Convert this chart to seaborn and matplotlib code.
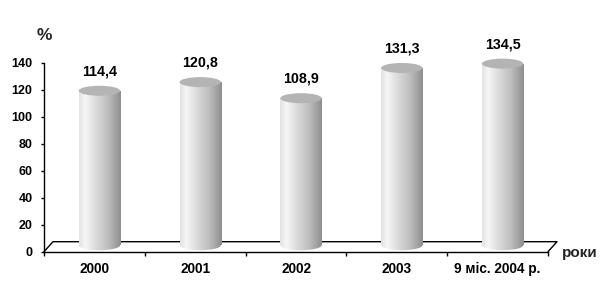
import numpy as np
import pandas as pd
import matplotlib
matplotlib.use("Agg")
import matplotlib.pyplot as plt
import matplotlib.transforms as mtransforms
from matplotlib.patches import Ellipse
from matplotlib.colors import LinearSegmentedColormap
from matplotlib.ticker import FixedLocator
import seaborn as sns

# ---- data ----
categories = ["2000", "2001", "2002", "2003", "9 міс. 2004 р."]
values = [114.4, 120.8, 108.9, 131.3, 134.5]
value_labels = ["114,4", "120,8", "108,9", "131,3", "134,5"]
yticks = [0, 20, 40, 60, 80, 100, 120, 140]
y_unit = "%"
x_unit = "роки"

sns.set_theme(style="white")
plt.rcParams["font.family"] = ["Liberation Sans", "DejaVu Sans"]
plt.rcParams["font.weight"] = "bold"

W, H, DPI = 605, 296, 100
fig = plt.figure(figsize=(W / DPI, H / DPI), dpi=DPI)
fig.patch.set_facecolor("white")
x0px, x1px, y0px, y1px = 44, 548, 251.7, 62.7
ax = fig.add_axes([x0px / W, 1 - y0px / H, (x1px - x0px) / W, (y0px - y1px) / H])
ax.set_facecolor("white")

df = pd.DataFrame({"cat": categories, "val": values})
sns.barplot(data=df, x="cat", y="val", width=0.41, ax=ax, color="white",
            order=categories, zorder=3)

ax.set_xlim(-0.5, len(categories) - 0.5)
ax.set_ylim(0, 140)

# depth offset for the 3D look
off = mtransforms.ScaledTranslation(5 / DPI, 6.5 / DPI, fig.dpi_scale_trans)
tr = ax.transData + off
ell_h = 10 * 140 / (y0px - y1px)  # ellipse height in data units

cmap = LinearSegmentedColormap.from_list(
    "cyl", [(0.0, "#e2e2e2"), (0.15, "#f6f6f6"), (0.35, "#e0e0e0"),
            (0.7, "#bdbdbd"), (1.0, "#8e8e8e")])
grad = np.linspace(0, 1, 256).reshape(1, -1)

# floor parallelogram
dx, dy = 9 / (x1px - x0px), 10 / (y0px - y1px)
ax.plot([0, dx, 1 + dx, 1], [0, dy, dy, 0], transform=ax.transAxes,
        color="black", lw=1, clip_on=False, zorder=1)

for p, lab in zip(ax.patches, value_labels):
    bx, bw, bh = p.get_x(), p.get_width(), p.get_height()
    cx = bx + bw / 2
    p.set_transform(tr)
    p.set_facecolor("none")
    p.set_edgecolor("none")
    p.set_clip_on(False)
    im = ax.imshow(grad, extent=[bx, bx + bw, 0, bh], cmap=cmap, aspect="auto",
                   interpolation="bilinear", zorder=3)
    im.set_transform(tr)
    im.set_clip_path(p)
    # bottom rounded part
    be = Ellipse((cx, 0), bw, ell_h, transform=tr, facecolor="none",
                 edgecolor="none")
    ax.add_patch(be)
    im2 = ax.imshow(grad, extent=[bx, bx + bw, -ell_h, ell_h], cmap=cmap,
                    aspect="auto", interpolation="bilinear", zorder=3)
    im2.set_transform(tr)
    im2.set_clip_path(be)
    # top ellipse
    te = Ellipse((cx, bh), bw, ell_h, transform=tr, facecolor="#b4b4b4",
                 edgecolor="none", zorder=4, clip_on=False)
    ax.add_patch(te)
    ax.annotate(lab, (cx, bh), xycoords=tr, xytext=(0, 11),
                textcoords="offset points", ha="center", va="baseline",
                fontsize=10.3, fontweight="bold", color="black")

ax.set_xlim(-0.5, len(categories) - 0.5)
ax.set_ylim(0, 140)

# axes styling
for s in ["top", "right"]:
    ax.spines[s].set_visible(False)
for s in ["left", "bottom"]:
    ax.spines[s].set_color("black")
    ax.spines[s].set_linewidth(1)
    ax.spines[s].set_zorder(5)

ax.set_yticks(yticks)
ax.set_yticklabels([str(v) for v in yticks], fontsize=9, fontweight="bold")
ax.tick_params(axis="y", direction="out", length=2.5, width=1, color="black",
               pad=5.8, left=True, labelcolor="black")
ax.set_xticks(range(len(categories)))
ax.set_xticklabels(categories, fontsize=9.8, fontweight="bold")
ax.xaxis.set_minor_locator(FixedLocator(np.arange(-0.5, len(categories), 1.0)))
ax.tick_params(axis="x", which="major", length=0, pad=7.5, labelcolor="black")
ax.tick_params(axis="x", which="minor", direction="out", length=3, width=1,
               color="black", bottom=True)
ax.set_xlabel("")
ax.set_ylabel("")
ax.grid(False)

fig.text(44.5 / W, 1 - 35 / H, y_unit, ha="center", va="center", fontsize=12.5,
         fontweight="bold")
fig.text(580 / W, 1 - 253 / H, x_unit, ha="center", va="center", fontsize=11,
         fontweight="bold")

fig.savefig("out.png", dpi=DPI, facecolor="white")
